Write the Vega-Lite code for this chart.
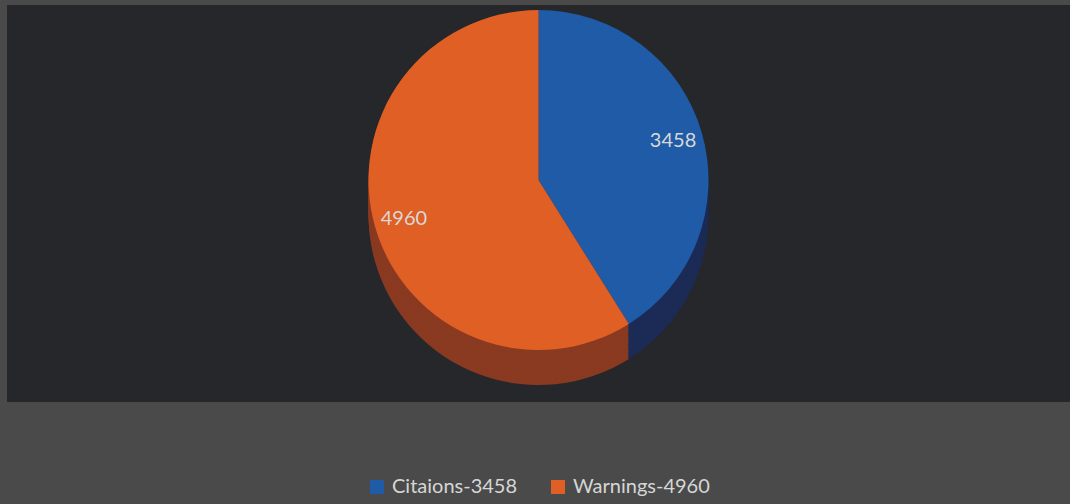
{
  "$schema": "https://vega.github.io/schema/vega-lite/v6.json",
  "width": 1063,
  "height": 397,
  "padding": {"left": 7, "top": 5, "right": 0, "bottom": 102},
  "autosize": {"type": "none"},
  "background": "#4a4a4a",
  "view": {"fill": "#26272a", "stroke": null},
  "config": {
    "view": {"fill": "#26272a", "stroke": null},
    "font": "Lato"
  },
  "data": {
    "values": [
      {"series": "Citaions-3458", "count": 3458},
      {"series": "Warnings-4960", "count": 4960}
    ]
  },
  "encoding": {
    "theta": {"field": "count", "type": "quantitative", "stack": true},
    "order": {"field": "series", "type": "nominal"}
  },
  "layer": [
    {
      "encoding": {
        "color": {
          "field": "series", "type": "nominal",
          "scale": {"domain": ["Citaions-3458", "Warnings-4960"], "range": ["#1b2b56", "#8a3a21"]},
          "legend": null
        }
      },
      "layer": [
        {"mark": {"type": "arc", "radius": 170, "yOffset": 11.5}},
        {"mark": {"type": "arc", "radius": 170, "yOffset": 9}},
        {"mark": {"type": "arc", "radius": 170, "yOffset": 6.5}},
        {"mark": {"type": "arc", "radius": 170, "yOffset": 4}},
        {"mark": {"type": "arc", "radius": 170, "yOffset": 1.5}},
        {"mark": {"type": "arc", "radius": 170, "yOffset": -1}},
        {"mark": {"type": "arc", "radius": 170, "yOffset": -3.5}},
        {"mark": {"type": "arc", "radius": 170, "yOffset": -6}},
        {"mark": {"type": "arc", "radius": 170, "yOffset": -8.5}},
        {"mark": {"type": "arc", "radius": 170, "yOffset": -11}},
        {"mark": {"type": "arc", "radius": 170, "yOffset": -13.5}},
        {"mark": {"type": "arc", "radius": 170, "yOffset": -16}},
        {"mark": {"type": "arc", "radius": 170, "yOffset": -18.5}},
        {"mark": {"type": "arc", "radius": 170, "yOffset": -21}}
      ]
    },
    {
      "mark": {"type": "arc", "radius": 170, "yOffset": -23.5},
      "encoding": {
        "color": {
          "field": "series", "type": "nominal",
          "scale": {"domain": ["Citaions-3458", "Warnings-4960"], "range": ["#1f5ba6", "#df5f25"]},
          "legend": {
            "title": null,
            "orient": "none",
            "direction": "horizontal",
            "legendX": 360,
            "legendY": 472,
            "symbolType": "square",
            "symbolSize": 196,
            "symbolStrokeWidth": 0,
            "labelFont": "Lato",
            "labelFontSize": 20,
            "labelColor": "#d6d6d6",
            "labelOffset": 5,
            "columnPadding": 30
          }
        }
      }
    },
    {
      "mark": {
        "type": "text",
        "radius": 140,
        "yOffset": -23.5,
        "font": "Lato",
        "fontSize": 20,
        "fill": "#d8d8d8"
      },
      "encoding": {
        "text": {"field": "count", "type": "quantitative", "format": "d"}
      }
    }
  ],
  "resolve": {"scale": {"color": "independent"}, "legend": {"color": "independent"}}
}
